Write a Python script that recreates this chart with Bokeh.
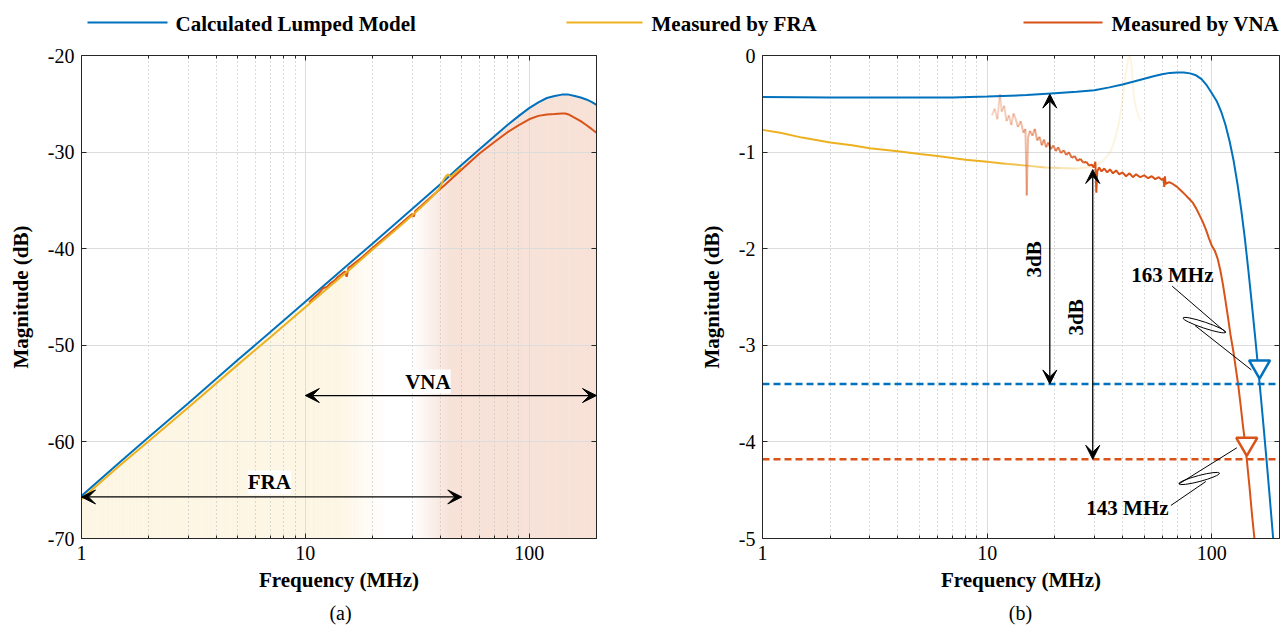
import numpy as np
from bokeh.plotting import figure
from bokeh.layouts import column, row
from bokeh.models import (FixedTicker, LogAxis, LinearAxis, Label, Arrow, VeeHead,
                          PrintfTickFormatter, Range1d)
from bokeh.embed import file_html
from bokeh.resources import INLINE
from bokeh.core.properties import value

# ---------------------------------------------------------------- data
# (a) magnitude, dB
f_calc_L = [1, 1.5, 2, 3, 5, 7, 10, 15, 20, 30, 40, 50, 60, 70, 80, 90, 100,
            110, 120, 130, 140, 150, 160, 170, 180, 190, 200]
calc_L = [-65.6, -62.0, -59.5, -56.0, -51.5, -48.6, -45.5, -41.95, -39.45, -35.9,
          -33.35, -31.3, -29.7, -28.35, -27.2, -26.25, -25.45, -24.85, -24.4, -24.2,
          -24.05, -24.05, -24.2, -24.35, -24.55, -24.8, -25.1]

f_fra_L = [1, 1.5, 2, 3, 5, 7, 10, 13, 16, 20, 25, 30, 35, 38, 39.5, 40.5, 41.5,
           42.5, 43.3, 44, 44.8, 46, 47.5, 49.6]
fra_L = [-65.9, -62.35, -59.9, -56.45, -52.0, -49.13, -46.07, -43.81, -42.04, -40.09,
         -38.16, -36.57, -35.15, -34.3, -33.9, -33.35, -32.85, -32.5, -32.3, -32.45,
         -32.55, -32.3, -32.0, -31.65]

f_vna_L = [10.4, 11, 11.5, 12, 12.5, 13, 13.5, 14, 14.5, 15, 15.3, 15.6, 16, 18, 20,
           23, 26, 29, 30, 30.5, 31, 33, 37, 42, 50, 60, 70, 80, 90, 100, 110, 120,
           130, 140, 145, 150, 160, 170, 180, 190, 200]
vna_L = [-45.55, -45.0, -44.6, -44.1, -43.95, -43.55, -43.3, -42.9, -42.65, -42.35,
         -42.9, -41.95, -41.8, -40.85, -39.9, -38.7, -37.65, -36.7, -36.4, -36.7,
         -36.1, -35.55, -34.52, -33.4, -31.8, -30.15, -28.95, -27.95, -27.2, -26.6,
         -26.25, -26.1, -26.05, -26.0, -26.0, -26.1, -26.45, -26.8, -27.2, -27.6, -28.0]

# (b) normalised magnitude, dB
f_calc_R = [1, 2, 3, 5, 7, 10, 15, 20, 25, 30, 35, 40, 45, 50, 55, 60, 65, 70, 75, 80,
            85, 90, 95, 100, 105, 110, 115, 120, 125, 130, 135, 140, 145, 150, 155,
            160, 165, 170, 175, 180, 185, 190, 200]
calc_R = [-0.43, -0.435, -0.435, -0.435, -0.435, -0.425, -0.41, -0.39, -0.375, -0.36,
          -0.33, -0.30, -0.27, -0.24, -0.215, -0.195, -0.18, -0.175, -0.175, -0.185,
          -0.205, -0.245, -0.31, -0.39, -0.47, -0.58, -0.72, -0.89, -1.09, -1.33,
          -1.59, -1.88, -2.2, -2.53, -2.86, -3.19, -3.52, -3.85, -4.18, -4.51, -4.84,
          -5.17, -5.85]

f_fra_R = [1, 1.2, 1.5, 2, 2.5, 3, 4, 5, 6, 7, 8, 10, 12, 15, 18, 21, 25, 28, 30, 32,
           34, 35.5, 37, 38.5, 39.5, 40.5, 41.3, 42, 42.7, 43.2, 43.7, 44.2, 44.7,
           45.2, 46, 47.3, 48.5]
fra_R = [-0.77, -0.80, -0.85, -0.90, -0.93, -0.96, -0.99, -1.02, -1.04, -1.06, -1.08,
         -1.10, -1.12, -1.14, -1.16, -1.165, -1.17, -1.16, -1.15, -1.11, -1.05, -0.99,
         -0.87, -0.71, -0.55, -0.36, -0.20, -0.09, -0.02, 0.0, -0.06, -0.18, -0.35,
         -0.47, -0.54, -0.64, -0.68]

f_vna_R = [10.5, 10.8, 11.1, 11.4, 11.6, 11.9, 12.2, 12.5, 12.8, 13.1, 13.4, 13.7,
           14.1, 14.5, 14.8, 15.0, 15.2, 15.5, 15.9, 16.3, 16.7, 17.1, 17.5, 17.9,
           18.3, 18.7, 19.2, 19.7, 20.2, 20.7, 21.3, 21.9, 22.5, 23.1, 23.8, 24.5,
           25.2, 26.0, 26.8, 27.6, 28.4, 29.2, 29.8, 30.3, 30.6, 30.9, 31.5, 32.3,
           33.2, 34.2, 35.2, 36.3, 37.5, 38.7, 40.0, 41.5, 43.0, 44.5, 46.0, 48.0,
           50.0, 52.0, 54.0, 56.0, 58.0, 60.0, 61.0, 61.4, 61.8, 62.3, 64.5, 67.0,
           70.0, 73.0, 76.0, 79.0, 82.0, 85.0, 88.0, 91.0, 94.0, 97.0, 100, 103, 106,
           109, 112, 115, 118, 121, 125, 128, 131, 134, 137, 140, 143, 147, 151, 155,
           160]
vna_R = [-0.62, -0.55, -0.66, -0.40, -0.58, -0.52, -0.68, -0.62, -0.72, -0.60, -0.66,
         -0.74, -0.68, -0.80, -0.76, -1.45, -0.85, -0.78, -0.83, -0.76, -0.88, -0.84,
         -0.93, -0.87, -0.95, -0.90, -0.97, -0.93, -0.99, -0.95, -1.01, -0.98, -1.03,
         -1.00, -1.06, -1.04, -1.09, -1.07, -1.11, -1.10, -1.14, -1.13, -1.16, -1.10,
         -1.42, -1.20, -1.16, -1.20, -1.17, -1.21, -1.18, -1.22, -1.19, -1.23, -1.21,
         -1.25, -1.22, -1.26, -1.23, -1.26, -1.24, -1.27, -1.25, -1.28, -1.26, -1.29,
         -1.27, -1.36, -1.25, -1.33, -1.31, -1.33, -1.36, -1.40, -1.44, -1.48, -1.52,
         -1.58, -1.65, -1.72, -1.80, -1.89, -1.97, -2.02, -2.10, -2.22, -2.37, -2.54,
         -2.71, -2.89, -3.08, -3.25, -3.41, -3.60, -3.80, -3.98, -4.18, -4.46, -4.76,
         -5.02, -5.40]

# -3 dB reference levels and bandwidths
calc_ref, calc_3db = -0.40, -3.40
vna_ref, vna_3db = -1.18, -4.18
calc_bw, calc_bw_level = 163, -3.22
vna_bw, vna_bw_level = 143, -4.02

# tick values / labels
x_lim = (1, 200)
x_major = [1, 10, 100]
x_minor = [2, 3, 4, 5, 6, 7, 8, 9, 20, 30, 40, 50, 60, 70, 80, 90, 200]
yticks_L = [-70, -60, -50, -40, -30, -20]
yticks_R = [-5, -4, -3, -2, -1, 0]
legend_labels = ["Calculated Lumped Model", "Measured by FRA", "Measured by VNA"]

# ---------------------------------------------------------------- style
FONT = "Liberation Serif"
BLUE, YELLOW, ORANGE = "#0072BD", "#EDB120", "#D95319"
AXC = "#262626"
PAGE_W = 1281


def make_panel(width, bl, br, yr, yticks):
    p = figure(width=width, height=550, x_axis_type="log",
               x_range=Range1d(*x_lim), y_range=Range1d(*yr),
               output_backend="svg", toolbar_location=None,
               min_border_left=bl, min_border_right=br,
               min_border_top=10, min_border_bottom=57,
               outline_line_color=None, background_fill_color="white")
    xt = FixedTicker(ticks=x_major, minor_ticks=x_minor)
    yt = FixedTicker(ticks=yticks, minor_ticks=[])
    bx = p.xaxis[0]
    ly = p.yaxis[0]
    bx.ticker = xt
    bx.formatter = PrintfTickFormatter(format="%d")
    ly.ticker = yt
    ly.formatter = PrintfTickFormatter(format="%d")
    bx.axis_label = "Frequency (MHz)"
    ly.axis_label = "Magnitude (dB)"
    top = LogAxis(ticker=xt)
    rgt = LinearAxis(ticker=yt)
    p.add_layout(top, "above")
    p.add_layout(rgt, "right")
    for ax in [bx, ly, top, rgt]:
        ax.axis_line_color = AXC
        ax.major_tick_line_color = AXC
        ax.minor_tick_line_color = AXC
        ax.major_tick_in = 5
        ax.major_tick_out = 0
        ax.minor_tick_in = 3
        ax.minor_tick_out = 0
        ax.major_label_text_font = FONT
        ax.major_label_text_font_size = "20px"
        ax.major_label_text_color = "black"
        ax.major_label_standoff = 7
        ax.axis_label_text_font = FONT
        ax.axis_label_text_font_size = "21px"
        ax.axis_label_text_font_style = "bold"
        ax.axis_label_text_color = "black"
    bx.axis_label_standoff = 5
    ly.axis_label_standoff = 12
    for ax in [top, rgt]:
        ax.major_label_text_font_size = "0px"
        ax.major_label_standoff = 0
        ax.formatter = PrintfTickFormatter(format="")
    p.xgrid.ticker = xt
    p.xgrid.grid_line_color = "#dcdcdc"
    p.xgrid.minor_grid_line_color = "#b8b8b8"
    p.xgrid.minor_grid_line_dash = "1 3"
    p.ygrid.ticker = yt
    p.ygrid.grid_line_color = "#dcdcdc"
    return p


def vee():
    return VeeHead(size=14, fill_color="black", line_color="black")


def lab(p, x, y, text, angle=0.0, bg=None, size="21px"):
    kw = {}
    if bg:
        kw = dict(background_fill_color=bg, background_fill_alpha=1.0)
    p.add_layout(Label(x=x, y=y, text=text, text_font=FONT, text_font_size=size,
                       text_font_style="bold", text_color="black", text_align="center",
                       text_baseline="middle", angle=angle, **kw))


# ---------------------------------------------------------------- (a)
W1 = 694
p1 = make_panel(W1, 81, 98, (-70, -20), yticks_L)

# gradient shading under the calculated curve (cream -> white -> pink)
shade_f = [1, 14, 23, 30, 44, 200]
cream, white, pink = (253, 246, 229), (255, 255, 255), (248, 226, 216)
shade_c = [cream, cream, white, white, pink, pink]
edges = np.logspace(0, np.log10(x_lim[1]), 241)
tops = np.interp(np.log10(edges), np.log10(f_calc_L), calc_L)
mids = np.log10(np.sqrt(edges[:-1] * edges[1:]))
cols = []
for m in mids:
    rgb = [int(round(np.interp(m, np.log10(shade_f), [c[k] for c in shade_c])))
           for k in range(3)]
    cols.append("#%02x%02x%02x" % tuple(rgb))
xs = [[edges[i], edges[i + 1], edges[i + 1], edges[i]] for i in range(len(mids))]
ys = [[yticks_L[0], yticks_L[0], tops[i + 1], tops[i]] for i in range(len(mids))]
p1.patches(xs, ys, fill_color=cols, line_color=cols, line_width=0.8, level="image")

p1.line(f_calc_L, calc_L, line_color=BLUE, line_width=2)
p1.line(f_vna_L, vna_L, line_color=ORANGE, line_width=2)
p1.line(f_fra_L, fra_L, line_color=YELLOW, line_width=2)

p1.add_layout(Arrow(start=vee(), end=vee(), x_start=1, y_start=-65.7, x_end=50,
                    y_end=-65.7, line_color="black", line_width=1.3))
p1.add_layout(Arrow(start=vee(), end=vee(), x_start=10, y_start=-55.2, x_end=200,
                    y_end=-55.2, line_color="black", line_width=1.3))
lab(p1, 6.9, -64.2, "FRA", bg="white")
lab(p1, 35.3, -53.75, "VNA", bg="white")

# ---------------------------------------------------------------- (b)
p2 = make_panel(PAGE_W - W1, 68, 2, (-5, 0), yticks_R)


def faded(p, f, v, anchors_f, anchors_a, color):
    f = np.asarray(f, float)
    v = np.asarray(v, float)
    mid = np.log10(np.sqrt(f[:-1] * f[1:]))
    al = np.interp(mid, np.log10(anchors_f), anchors_a)
    p.segment(x0=f[:-1], y0=v[:-1], x1=f[1:], y1=v[1:], line_color=color,
              line_alpha=al, line_width=2, line_cap="butt")


# FRA: solid up to 10 MHz, then fading
k = f_fra_R.index(10)
p2.line(f_fra_R[:k + 1], fra_R[:k + 1], line_color=YELLOW, line_width=2)
faded(p2, f_fra_R[k:], fra_R[k:], [10, 14, 20, 30, 50], [1.0, 0.75, 0.4, 0.15, 0.12], YELLOW)

# VNA: fading in below ~28 MHz, then solid
k = f_vna_R.index(28.4)
faded(p2, f_vna_R[:k + 1], vna_R[:k + 1], [10, 13, 17, 22, 28.4], [0.22, 0.3, 0.5, 0.75, 1.0], ORANGE)
p2.line(f_vna_R[k:], vna_R[k:], line_color=ORANGE, line_width=2)

p2.line(f_calc_R, calc_R, line_color=BLUE, line_width=2)

p2.line(list(x_lim), [calc_3db, calc_3db], line_color=BLUE, line_width=2.5, line_dash="7 4")
p2.line(list(x_lim), [vna_3db, vna_3db], line_color=ORANGE, line_width=2.5, line_dash="7 4")

p2.add_layout(Arrow(start=vee(), end=vee(), x_start=19.0, y_start=calc_ref, x_end=19.0,
                    y_end=calc_3db, line_color="black", line_width=1.3))
p2.add_layout(Arrow(start=vee(), end=vee(), x_start=29.5, y_start=vna_ref, x_end=29.5,
                    y_end=vna_3db, line_color="black", line_width=1.3))
lab(p2, 16.1, -2.11, "3dB", angle=np.pi / 2)
lab(p2, 24.8, -2.71, "3dB", angle=np.pi / 2)

# callouts
p2.line([66.6, 115.2], [-2.388, -2.865], line_color="black", line_width=1)
p2.line([84.1, 149.8], [-2.795, -3.254], line_color="black", line_width=1)
p2.ellipse(x=[92.6], y=[-2.791], width=[45], height=[6], angle=[-0.324],
           width_units="screen", height_units="screen", fill_color=None,
           line_color="black", line_width=1)
p2.line([129.2, 71.5], [-4.061, -4.434], line_color="black", line_width=1)
p2.line([94.0, 65.7], [-4.41, -4.658], line_color="black", line_width=1)
p2.ellipse(x=[87.8], y=[-4.379], width=[42], height=[6], angle=[0.259],
           width_units="screen", height_units="screen", fill_color=None,
           line_color="black", line_width=1)
lab(p2, 66.7, -2.272, "%d MHz" % calc_bw)
lab(p2, 42.1, -4.68, "%d MHz" % vna_bw)

p2.scatter([calc_bw], [calc_bw_level], marker="inverted_triangle", size=21,
           fill_color="white", line_color=BLUE, line_width=2.5)
p2.scatter([vna_bw], [vna_bw_level], marker="inverted_triangle", size=21,
           fill_color="white", line_color=ORANGE, line_width=2.5)

# ---------------------------------------------------------------- legend strip
leg = figure(width=PAGE_W, height=45, x_range=Range1d(0, PAGE_W), y_range=Range1d(45, 0),
             output_backend="svg", toolbar_location=None, min_border=0,
             x_axis_location=None, y_axis_location=None, outline_line_color=None)
leg.grid.visible = False
leg_line_x0 = [87, 566, 1023]
leg_line_x1 = [167, 642, 1102]
leg_text_x = [175, 651, 1111]
leg_cols = [BLUE, YELLOW, ORANGE]
leg.segment(x0=leg_line_x0, y0=[22] * 3, x1=leg_line_x1, y1=[22] * 3,
            line_color=leg_cols, line_width=2)
leg.text(x=leg_text_x, y=[23] * 3, text=legend_labels, text_font=value(FONT),
         text_font_size=value("21px"), text_font_style="bold", text_color="black",
         text_align="left", text_baseline="middle")

# ---------------------------------------------------------------- captions
cap = figure(width=PAGE_W, height=40, x_range=Range1d(0, PAGE_W), y_range=Range1d(40, 0),
             output_backend="svg", toolbar_location=None, min_border=0,
             x_axis_location=None, y_axis_location=None, outline_line_color=None)
cap.grid.visible = False
cap.text(x=[340, 1020], y=[17, 17], text=["(a)", "(b)"], text_font=value(FONT),
         text_font_size=value("20px"), text_color="black", text_align="center",
         text_baseline="middle")

layout = column(leg, row(p1, p2), cap)
open("out.html", "w").write(file_html(layout, INLINE))
